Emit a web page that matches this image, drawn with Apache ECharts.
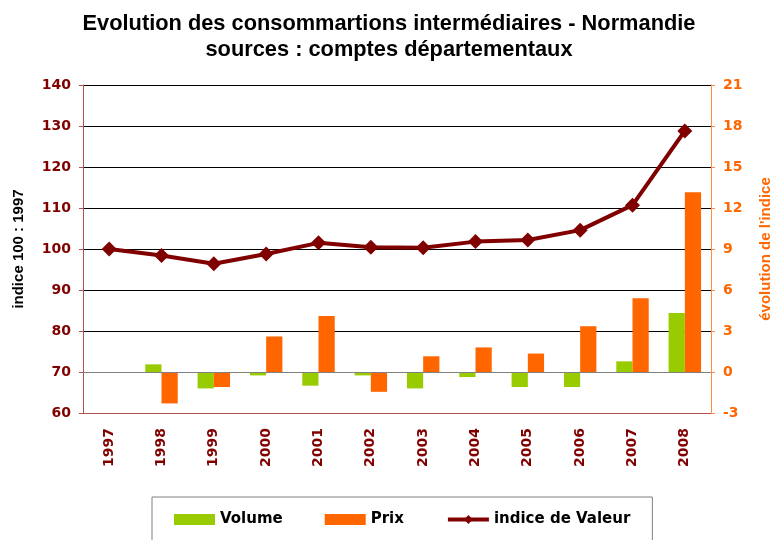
<!DOCTYPE html>
<html>
<head>
	<meta charset="utf-8">
	<script src="https://cdn.jsdelivr.net/npm/echarts@6/dist/echarts.min.js"></script>
</head>
<body style="margin:0;background:#fff;">
	<div id="main" style="width: 778px; height: 540px;"></div>
<script type="text/javascript">
        var years = ['1997', '1998', '1999', '2000', '2001', '2002', '2003', '2004', '2005', '2006', '2007', '2008'];
        // évolution annuelle (axe de droite)
        var volume = [null, 0.56, -1.2, -0.25, -1.0, -0.25, -1.2, -0.37, -1.1, -1.1, 0.78, 4.32];
        var prix = [null, -2.3, -1.1, 2.6, 4.1, -1.45, 1.15, 1.8, 1.35, 3.35, 5.4, 13.15];
        // indice 100 en 1997 (axe de gauche)
        var indice = [100, 98.4, 96.4, 98.8, 101.5, 100.4, 100.3, 101.8, 102.2, 104.6, 110.7, 128.8];

        var dark = '#800000';
        var font = 'DejaVu Sans';

        var myChart = echarts.init(document.getElementById('main'));

        var option = {
            backgroundColor: '#fff',
            animation: false,
            title: {
                text: 'Evolution des consommartions intermédiaires - Normandie\nsources : comptes départementaux',
                left: 'center',
                top: 6,
                textStyle: {
                    fontFamily: 'Liberation Sans',
                    fontSize: 21.8,
                    fontWeight: 'bold',
                    color: '#000',
                    lineHeight: 26
                }
            },
            legend: {
                left: 152,
                top: 497,
                padding: [15, 22, 20, 22],
                borderColor: '#808080',
                borderWidth: 1,
                itemWidth: 41,
                itemHeight: 11,
                itemGap: 42,
                lineStyle: { width: 4 },
                textStyle: {
                    fontFamily: font,
                    fontSize: 15,
                    fontWeight: 'bold',
                    color: '#000'
                },
                data: [
                    { name: 'Volume', icon: 'rect' },
                    { name: 'Prix', icon: 'rect' },
                    { name: 'indice de Valeur' }
                ]
            },
            grid: {
                left: 83,
                right: 67,
                top: 85,
                bottom: 127,
                outerBoundsMode: 'none'
            },
            xAxis: {
                type: 'category',
                data: years,
                axisLine: { onZero: false, lineStyle: { color: '#b05050' } },
                axisTick: { length: 5, lineStyle: { color: dark } },
                axisLabel: {
                    rotate: 90,
                    margin: 15,
                    color: dark,
                    fontFamily: font,
                    fontSize: 14,
                    fontWeight: 'bold'
                }
            },
            yAxis: [
                {
                    type: 'value',
                    min: 60,
                    max: 140,
                    interval: 10,
                    name: 'indice 100 : 1997',
                    nameLocation: 'middle',
                    nameRotate: 90,
                    nameGap: 57,
                    nameTextStyle: {
                        fontFamily: 'Liberation Sans',
                        fontSize: 15,
                        fontWeight: 'bold',
                        color: '#000'
                    },
                    axisLine: { show: true, lineStyle: { color: '#b05050' } },
                    axisTick: { show: true, length: 4, lineStyle: { color: '#b05050' } },
                    axisLabel: {
                        margin: 12,
                        color: dark,
                        fontFamily: font,
                        fontSize: 14,
                        fontWeight: 'bold'
                    },
                    splitLine: { lineStyle: { color: '#000', width: 1 } }
                },
                {
                    type: 'value',
                    min: -3,
                    max: 21,
                    interval: 3,
                    position: 'right',
                    name: "évolution de l'indice",
                    nameLocation: 'middle',
                    nameRotate: 90,
                    nameGap: 47,
                    nameTextStyle: {
                        fontFamily: 'Liberation Sans',
                        fontSize: 15,
                        fontWeight: 'bold',
                        color: '#ff6600'
                    },
                    axisLine: { show: true, lineStyle: { color: '#ff8c40' } },
                    axisTick: { show: true, length: 4, lineStyle: { color: '#ff8c40' } },
                    axisLabel: {
                        margin: 12,
                        color: '#ff6600',
                        fontFamily: font,
                        fontSize: 14,
                        fontWeight: 'bold'
                    },
                    splitLine: { show: false }
                }
            ],
            series: [
                {
                    name: 'Volume',
                    type: 'bar',
                    yAxisIndex: 1,
                    data: volume,
                    barGap: '0%',
                    barCategoryGap: '38%',
                    itemStyle: { color: '#99cc00' }
                },
                {
                    name: 'Prix',
                    type: 'bar',
                    yAxisIndex: 1,
                    data: prix,
                    itemStyle: { color: '#ff6600' },
                    markLine: {
                        silent: true,
                        symbol: 'none',
                        label: { show: false },
                        lineStyle: { color: '#808080', type: 'solid', width: 1 },
                        data: [{ yAxis: 0 }]
                    }
                },
                {
                    name: 'indice de Valeur',
                    type: 'line',
                    yAxisIndex: 0,
                    data: indice,
                    symbol: 'diamond',
                    symbolSize: 15,
                    lineStyle: { color: dark, width: 4 },
                    itemStyle: { color: dark },
                    z: 5
                }
            ]
        };

        myChart.setOption(option);
    </script>
</body>
</html>
